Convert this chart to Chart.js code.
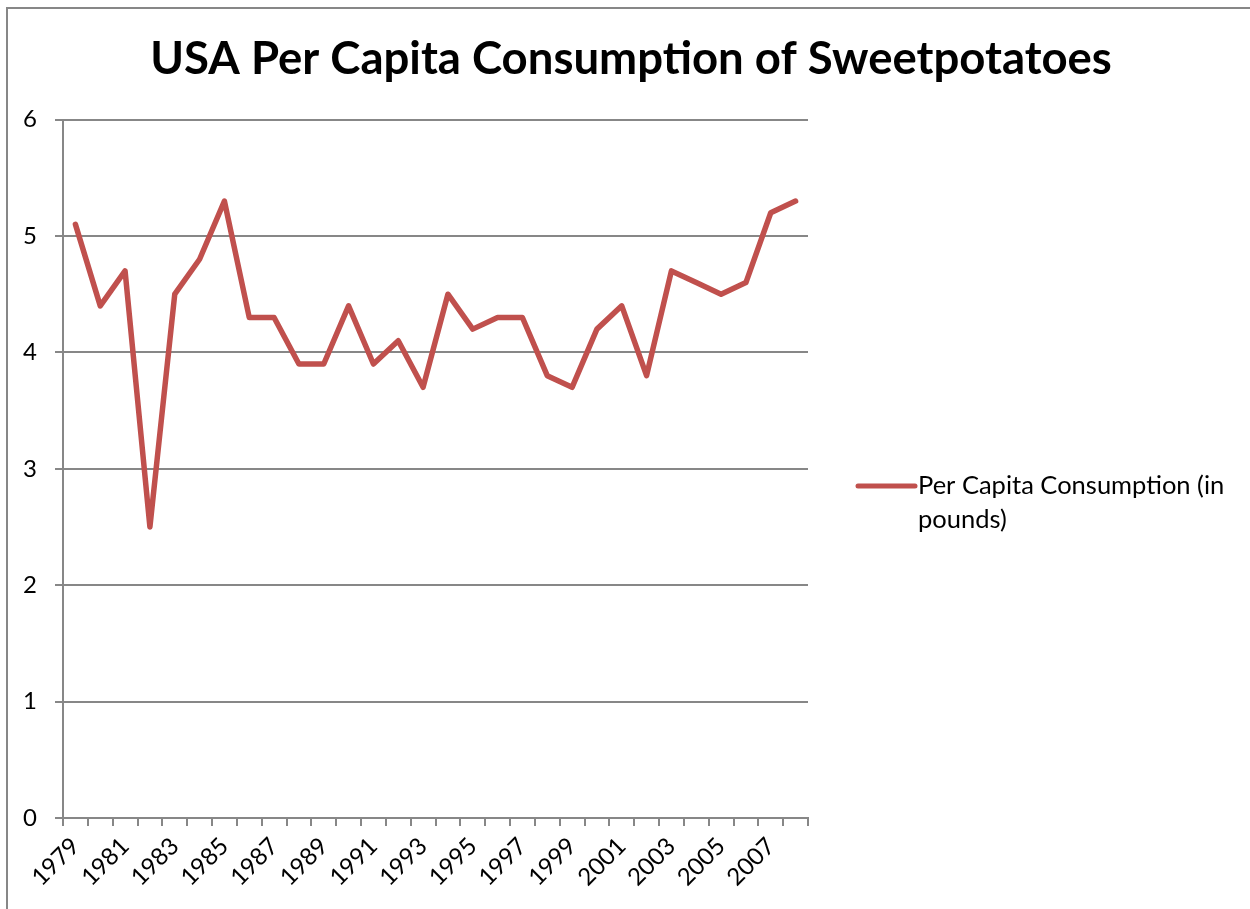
<!DOCTYPE html>
<html>
<head>
<meta charset="utf-8">
<title>USA Per Capita Consumption of Sweetpotatoes</title>
<script src="https://cdn.jsdelivr.net/npm/chart.js@4/dist/chart.umd.min.js"></script>
<style>
  html, body { margin: 0; padding: 0; background: #ffffff; }
  #wrap { position: relative; width: 1250px; height: 909px; }
</style>
</head>
<body>
<div id="wrap"><canvas id="chart" width="1250" height="909"></canvas></div>
<script>
// Years and per-capita consumption (pounds)
const years = [
  '1979','1980','1981','1982','1983','1984','1985','1986','1987','1988',
  '1989','1990','1991','1992','1993','1994','1995','1996','1997','1998',
  '1999','2000','2001','2002','2003','2004','2005','2006','2007','2008'
];
const consumption = [
  5.1, 4.4, 4.7, 2.5, 4.5, 4.8, 5.3, 4.3, 4.3, 3.9,
  3.9, 4.4, 3.9, 4.1, 3.7, 4.5, 4.2, 4.3, 4.3, 3.8,
  3.7, 4.2, 4.4, 3.8, 4.7, 4.6, 4.5, 4.6, 5.2, 5.3
];
const yTicks = [0, 1, 2, 3, 4, 5, 6];
const seriesName = 'Per Capita Consumption (in pounds)';
const chartTitle = 'USA Per Capita Consumption of Sweetpotatoes';

const FONT = 'Lato, "Open Sans", sans-serif';
const GRID = '#878787';
const LINE = '#C0504D';

// Outer frame around the chart object
const framePlugin = {
  id: 'frame',
  beforeDraw(chart) {
    const ctx = chart.ctx;
    ctx.save();
    ctx.strokeStyle = GRID;
    ctx.lineWidth = 2;
    ctx.beginPath();
    ctx.moveTo(7, chart.height + 5);
    ctx.lineTo(7, 8);
    ctx.lineTo(chart.width + 5, 8);
    ctx.stroke();
    ctx.restore();
  }
};

// Legend in the right-hand panel, label wrapped onto two lines
const sideLegend = {
  id: 'sideLegend',
  afterDraw(chart) {
    const ctx = chart.ctx;
    const ds = chart.data.datasets[0];
    const area = chart.chartArea;
    const x0 = area.right + 50, x1 = x0 + 57, textX = x1 + 3;
    const y0 = 486, lineGap = 34, maxW = 318;
    ctx.save();
    ctx.strokeStyle = ds.borderColor;
    ctx.lineWidth = 5;
    ctx.lineCap = 'round';
    ctx.beginPath();
    ctx.moveTo(x0, y0);
    ctx.lineTo(x1, y0);
    ctx.stroke();
    ctx.font = '25.5px ' + FONT;
    ctx.fillStyle = '#000000';
    ctx.textBaseline = 'middle';
    const words = ds.label.split(' ');
    const lines = [];
    let cur = '';
    for (const w of words) {
      const test = cur ? cur + ' ' + w : w;
      if (ctx.measureText(test).width > maxW && cur) { lines.push(cur); cur = w; }
      else cur = test;
    }
    if (cur) lines.push(cur);
    lines.forEach((ln, i) => ctx.fillText(ln, textX, y0 + i * lineGap));
    ctx.restore();
  }
};

new Chart(document.getElementById('chart'), {
  type: 'line',
  data: {
    labels: years,
    datasets: [{
      label: seriesName,
      data: consumption,
      borderColor: LINE,
      backgroundColor: LINE,
      borderWidth: 5.5,
      pointRadius: 0,
      tension: 0,
      borderJoinStyle: 'round',
      borderCapStyle: 'round'
    }]
  },
  options: {
    responsive: false,
    animation: false,
    devicePixelRatio: 1,
    layout: { padding: { left: 12, right: 0, top: 0, bottom: 0 } },
    plugins: {
      legend: { display: false },
      tooltip: { enabled: false },
      title: {
        display: true,
        text: chartTitle,
        color: '#000000',
        font: { family: FONT, size: 45.5, weight: 'bold', lineHeight: 1.2 },
        padding: { top: 32, bottom: 33 }
      }
    },
    scales: {
      x: {
        type: 'category',
        offset: true,
        grid: {
          display: true,
          offset: true,
          drawOnChartArea: false,
          drawTicks: true,
          tickLength: 8,
          color: GRID,
          lineWidth: 2
        },
        border: { display: true, color: GRID, width: 2 },
        ticks: {
          autoSkip: false,
          minRotation: 45,
          maxRotation: 45,
          padding: 6,
          color: '#000000',
          font: { family: FONT, size: 24 },
          callback(value, index) { return index % 2 === 0 ? years[index] : ''; }
        },
        afterFit(scale) { scale.height = 91; }
      },
      y: {
        min: 0,
        max: 6,
        afterBuildTicks(scale) { scale.ticks = yTicks.map(v => ({ value: v })); },
        grid: {
          color: GRID,
          lineWidth: 2,
          tickLength: 8,
          drawTicks: true
        },
        border: { display: true, color: GRID, width: 2 },
        ticks: {
          padding: 18,
          color: '#000000',
          font: { family: FONT, size: 24 }
        },
        afterFit(scale) { scale.width = 51; }
      },
      // empty right-hand panel that holds the legend
      legendPanel: {
        type: 'linear',
        position: 'right',
        display: true,
        grid: { display: false, drawTicks: false },
        border: { display: false },
        ticks: { display: false },
        afterFit(scale) { scale.width = 442; }
      }
    }
  },
  plugins: [framePlugin, sideLegend]
});
</script>
</body>
</html>
